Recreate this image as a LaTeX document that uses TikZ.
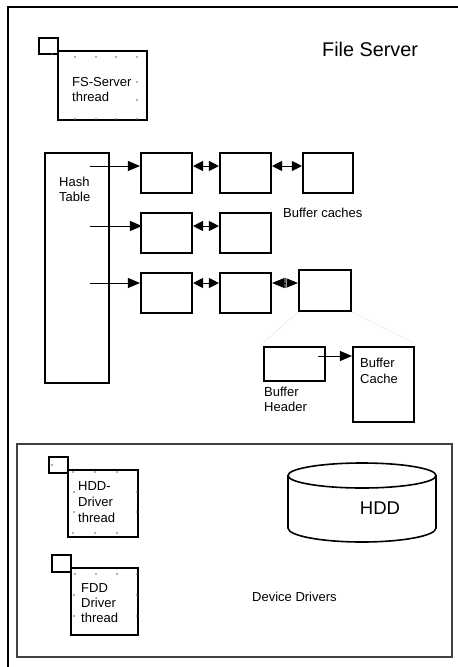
\documentclass[tikz,border=0pt]{standalone}
\usepackage{fontspec}
\setmainfont{Liberation Sans}
\usetikzlibrary{arrows.meta}
\begin{document}
\begin{tikzpicture}[x=1pt,y=-1pt,
  bx/.style={draw,line width=2.1pt,inner sep=0pt,minimum width=#1},
  bx/.default=51pt,
  thr/.style={draw,line width=2.1pt,inner sep=0pt},
  lbl/.style={inner sep=0pt,font=\fontsize{13}{15.5}\selectfont,align=left},
  arr/.style={line width=0.9pt,-{Triangle[length=12pt,width=10pt]}},
  darr/.style={line width=0.9pt,{Triangle[length=10pt,width=10pt]}-{Triangle[length=10pt,width=10pt]}},
  dot/.style={fill=black!60,draw=none,inner sep=0pt,minimum size=1.6pt,circle},
  faint/.style={draw=black!10,line width=0.5pt}]
\useasboundingbox (0,0) rectangle (458,667);
% outer frame
\draw[line width=1.3pt] (8,667) -- (8,7) -- (458,7);
% FS-Server thread
\node[thr,minimum width=19pt,minimum height=16pt] (fssq) at (48.5,46) {};
\node[thr,minimum width=89pt,minimum height=69pt] (fs) at (102.5,85.5) {};
\node[lbl,anchor=north west] (fst) at (72,77) {FS-Server\\thread};
\foreach \x in {75,96,116,137} {\node[dot] at (\x,57) {}; \node[dot] at (\x,119) {};}
\foreach \y in {82,100} {\node[dot] at (137,\y) {};}
\node[dot] at (52,54) {};
\node[inner sep=0pt,anchor=west,font=\fontsize{19.8}{22}\selectfont] (fsv) at (322,49.5) {File Server};
% hash table
\node[bx=64pt,minimum height=230pt] (hash) at (77,268) {};
\node[lbl,anchor=north west,font=\fontsize{13}{15}\selectfont] (hasht) at (59,177) {Hash\\Table};
\coordinate (h1) at (90,166);
\coordinate (h2) at (90,226);
\coordinate (h3) at (90,283);
% buffers
\node[bx,minimum height=40pt] (a1) at (166.5,173) {};
\node[bx,minimum height=40pt] (a2) at (245.5,173) {};
\node[bx=50pt,minimum height=40pt] (a3) at (328,173) {};
\node[bx,minimum height=40pt] (b1) at (166.5,233) {};
\node[bx,minimum height=40pt] (b2) at (245.5,233) {};
\node[bx,minimum height=40pt] (c1) at (166.5,293) {};
\node[bx,minimum height=40pt] (c2) at (245.5,293) {};
\node[bx=52pt,minimum height=41pt] (c3) at (325,290.5) {};
\draw[arr] (h1) -- (h1 -| a1.west);
\draw[arr] (h2) -- ([xshift=2pt]h2 -| b1.west);
\draw[arr] (h3) -- (h3 -| c1.west);
\draw[darr] (h1 -| a1.east) -- (h1 -| a2.west);
\draw[darr] (h1 -| a2.east) -- (h1 -| a3.west);
\draw[darr] (h2 -| b1.east) -- (h2 -| b2.west);
\draw[darr] (h3 -| c1.east) -- (h3 -| c2.west);
\draw[line width=0.9pt,{Triangle[length=12.5pt,width=10pt]}-{Triangle[length=12.5pt,width=10pt]}] (h3 -| c2.east) -- (h3 -| c3.west);
\draw[black!40,line width=0.6pt] (286.5,278) -- (286.5,288);
\node[lbl,anchor=west] (bc) at (283,213) {Buffer caches};
% buffer header / cache
\node[bx=61pt,minimum height=34pt] (bh) at (294.5,364) {};
\node[bx=61pt,minimum height=75pt] (bcache) at (383.5,384.5) {};
\coordinate (bha) at (318,356);
\draw[arr] (bha) -- (bha -| bcache.west);
\node[lbl,anchor=north west] (bct) at (360,358) {Buffer\\Cache};
\node[lbl,anchor=north west,font=\fontsize{13}{15}\selectfont] (bht) at (264,387) {Buffer\\Header};
\draw[faint] (c3.south west) -- (263,343);
\draw[faint] (c3.south east) -- (414,343);
% device drivers
\node[draw=black!75,line width=1.1pt,minimum width=435pt,minimum height=213pt,inner sep=0pt] (dd) at (234.5,550.5) {};
\node[lbl,anchor=west] (ddt) at (252,597) {Device Drivers};
% HDD thread
\node[thr,minimum width=19pt,minimum height=16pt] (hsq) at (58.5,465) {};
\node[thr,minimum width=70pt,minimum height=67pt] (hdt) at (103,503.5) {};
\node[lbl,anchor=north west,font=\fontsize{13}{16}\selectfont] (hdtt) at (78,481) {HDD-\\Driver\\thread};
\foreach \x in {73,95,117} {\node[dot] at (\x,472) {}; \node[dot] at (\x,533) {};}
\foreach \y in {492,512} {\node[dot] at (74,\y) {}; \node[dot] at (137,\y) {};}
\node[dot] at (52,465) {};
% FDD thread
\node[thr,minimum width=19pt,minimum height=17pt] (fsq) at (61.5,563.5) {};
\node[thr,minimum width=67pt,minimum height=67pt] (fdt) at (104.5,601.5) {};
\node[lbl,anchor=north west,font=\fontsize{13}{15}\selectfont] (fdtt) at (81,583) {FDD\\Driver\\thread};
\foreach \x in {75,96,117} {\node[dot] at (\x,574) {};}
\foreach \y in {574,595,616} {\node[dot] at (137,\y) {};}
\foreach \y in {595,616} {\node[dot] at (74,\y) {};}
% HDD cylinder
\draw[line width=1.6pt] (362,475.5) ellipse [x radius=74pt,y radius=12.5pt];
\draw[line width=1.6pt] (288,475.5) -- (288,528) arc[start angle=180,end angle=360,x radius=74pt,y radius=14pt] -- (436,475.5);
\node[inner sep=0pt,font=\fontsize{18.5}{20}\selectfont] (hdd) at (380,508) {HDD};
\end{tikzpicture}
\end{document}
